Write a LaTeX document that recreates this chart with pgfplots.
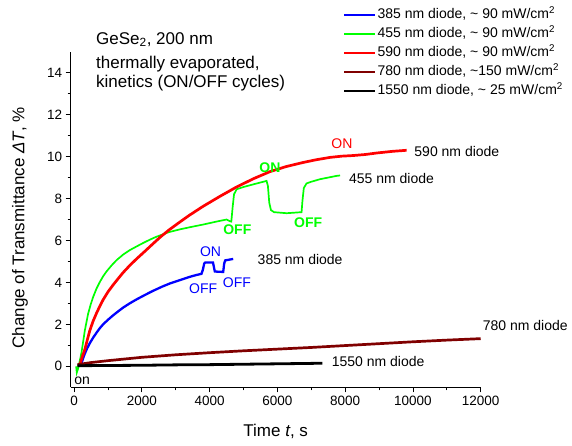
\documentclass[border=0pt]{standalone}
\usepackage{fontspec}
\setmainfont{Liberation Sans}
\usepackage{pgfplots}
\pgfplotsset{compat=1.18}
\definecolor{cblue}{RGB}{0,0,255}
\definecolor{cgreen}{RGB}{0,255,0}
\definecolor{cred}{RGB}{255,0,0}
\definecolor{cwine}{RGB}{128,0,0}
\begin{document}
\begin{tikzpicture}
\path[use as bounding box] (0,0) rectangle (572pt,445pt);
\begin{axis}[
  at={(70.7pt,57.7pt)}, anchor=south west,
  scale only axis, width=410pt, height=335.6pt,
  xmin=-100, xmax=12000, ymin=-1, ymax=15,
  axis x line*=bottom, axis y line*=left,
  xtick={0,2000,...,12000}, minor x tick num=1,
  ytick={0,2,...,14}, minor y tick num=1,
  scaled x ticks=false,
  tick align=outside,
  major tick length=5pt, minor tick length=3pt,
  tick style={black, line width=0.8pt},
  axis line style={line width=0.8pt},
  /pgf/number format/assume math mode=true,
  /pgf/number format/1000 sep={},
  ticklabel style={font=\fontsize{13.5}{15}\selectfont},
  xlabel={Time \textit{t}, s},
  ylabel={Change of Transmittance \textit{ΔT}, \%},
  label style={font=\fontsize{17}{20}\selectfont},
  xlabel style={at={(axis description cs:0.5,-0.131)}, anchor=center},
  ylabel style={at={(axis description cs:-0.124,0.475)}, anchor=center},
  clip=false,
  legend style={fill=none, draw=none, at={(axis description cs:0.658,1.140)}, anchor=north west,
    font=\fontsize{14}{16}\selectfont, legend cell align=left, row sep=3pt,
    nodes={inner sep=1.5pt, text height=10pt, text depth=3pt}},
  legend image code/.code={\draw[#1] (0pt,0pt) -- (31pt,0pt);},
  legend image post style={line width=1.4pt},
]
\addplot[color=cblue, line width=2.3pt] coordinates {
(170,0.0) (218,0.15) (270,0.4) (316,0.6) (380,0.84) (463,1.1) (560,1.36) (661,1.6) (760,1.82) (856,2.0) (1000,2.22) (1151,2.43) (1300,2.62) (1447,2.8) (1650,3.01) (1842,3.19) (2100,3.41) (2332,3.6) (2600,3.8) (2826,3.95) (3121,4.11) (3400,4.26) (3600,4.35) (3760,4.41) (3800,4.6) (3840,4.9) (3870,4.95) (4100,4.95) (4130,4.7) (4154,4.52) (4400,4.5) (4430,4.9) (4460,5.05) (4695,5.12)};
\addlegendentry{385 nm diode, \textasciitilde\ 90 mW/cm\textsuperscript{2}}
\addplot[color=cgreen, line width=1.7pt] coordinates {
(60,0) (80,-0.3) (118,-0.11) (160,0.2) (218,0.65) (270,1.2) (316,1.7) (413,2.5) (490,2.95) (561,3.3) (660,3.7) (759,4.02) (860,4.3) (956,4.52) (1100,4.8) (1252,5.06) (1450,5.33) (1644,5.54) (1850,5.72) (2037,5.88) (2250,6.05) (2433,6.18) (2800,6.4) (3121,6.53) (3500,6.66) (3809,6.76) (4200,6.9) (4500,7.0) (4597,6.92) (4640,6.9) (4680,7.6) (4720,8.2) (4795,8.44) (5000,8.55) (5300,8.68) (5680,8.84) (5720,8.6) (5760,7.8) (5810,7.45) (5900,7.35) (6271,7.3) (6713,7.35) (6740,7.9) (6780,8.5) (6860,8.72) (7000,8.8) (7254,8.92) (7500,9.0) (7747,9.08) (7850,9.1)};
\addlegendentry{455 nm diode, \textasciitilde\ 90 mW/cm\textsuperscript{2}}
\addplot[color=cred, line width=2.7pt] coordinates {
(160,0) (230,0.4) (316,0.8) (400,1.32) (463,1.7) (560,2.15) (661,2.53) (760,2.87) (856,3.17) (1000,3.55) (1151,3.88) (1300,4.18) (1447,4.47) (1650,4.82) (1842,5.12) (2100,5.5) (2332,5.85) (2550,6.17) (2800,6.5) (3121,6.88) (3400,7.2) (3809,7.63) (4300,8.1) (4795,8.55) (5300,8.95) (5778,9.28) (6250,9.52) (6762,9.72) (7150,9.85) (7550,9.96) (7900,10.02) (8240,10.05) (8600,10.1) (8928,10.17) (9400,10.25) (9814,10.3)};
\addlegendentry{590 nm diode, \textasciitilde\ 90 mW/cm\textsuperscript{2}}
\addplot[color=cwine, line width=2.7pt] coordinates {
(100,0.08) (500,0.18) (1000,0.27) (2000,0.43) (3000,0.55) (4000,0.65) (5000,0.74) (6000,0.82) (7000,0.9) (8000,0.99) (9000,1.08) (10000,1.17) (11000,1.25) (12000,1.32)};
\addlegendentry{780 nm diode, \textasciitilde150 mW/cm\textsuperscript{2}}
\addplot[color=black, line width=2.8pt] coordinates {
(100,0.03) (1000,0.04) (2000,0.05) (3000,0.07) (4000,0.08) (5000,0.1) (6000,0.12) (7000,0.14) (7330,0.15)};
\addlegendentry{1550 nm diode, \textasciitilde\ 25 mW/cm\textsuperscript{2}}

\begin{scope}[every node/.style={font=\fontsize{14}{16}\selectfont}]
\node[anchor=west] at (axis cs:9940,10.26) {590 nm diode};
\node[anchor=west] at (axis cs:8013,8.95) {455 nm diode};
\node[anchor=west] at (axis cs:5315,5.08) {385 nm diode};
\node[anchor=west] at (axis cs:11958,1.97) {780 nm diode};
\node[anchor=west] at (axis cs:7500,0.25) {1550 nm diode};
\node[anchor=west, inner sep=0pt] at (axis cs:0,-0.67) {on};
\node[cred] at (axis cs:7905,10.6) {ON};
\node[cgreen, font=\fontsize{14}{16}\selectfont\bfseries] at (axis cs:5778,9.48) {ON};
\node[cgreen, font=\fontsize{14}{16}\selectfont\bfseries] at (axis cs:4818,6.52) {OFF};
\node[cgreen, font=\fontsize{14}{16}\selectfont\bfseries] at (axis cs:6910,6.84) {OFF};
\node[cblue] at (axis cs:4027,5.48) {ON};
\node[cblue] at (axis cs:3810,3.68) {OFF};
\node[cblue] at (axis cs:4805,3.97) {OFF};
\end{scope}
\end{axis}
\begin{scope}[every node/.style={font=\fontsize{17}{20}\selectfont, anchor=base west, inner sep=0pt}]
\node at (96pt,400.7pt) {GeSe\textsubscript{2}, 200 nm};
\node at (96pt,376pt) {thermally evaporated,};
\node at (96pt,357.3pt) {kinetics (ON/OFF cycles)};
\end{scope}
\end{tikzpicture}
\end{document}
